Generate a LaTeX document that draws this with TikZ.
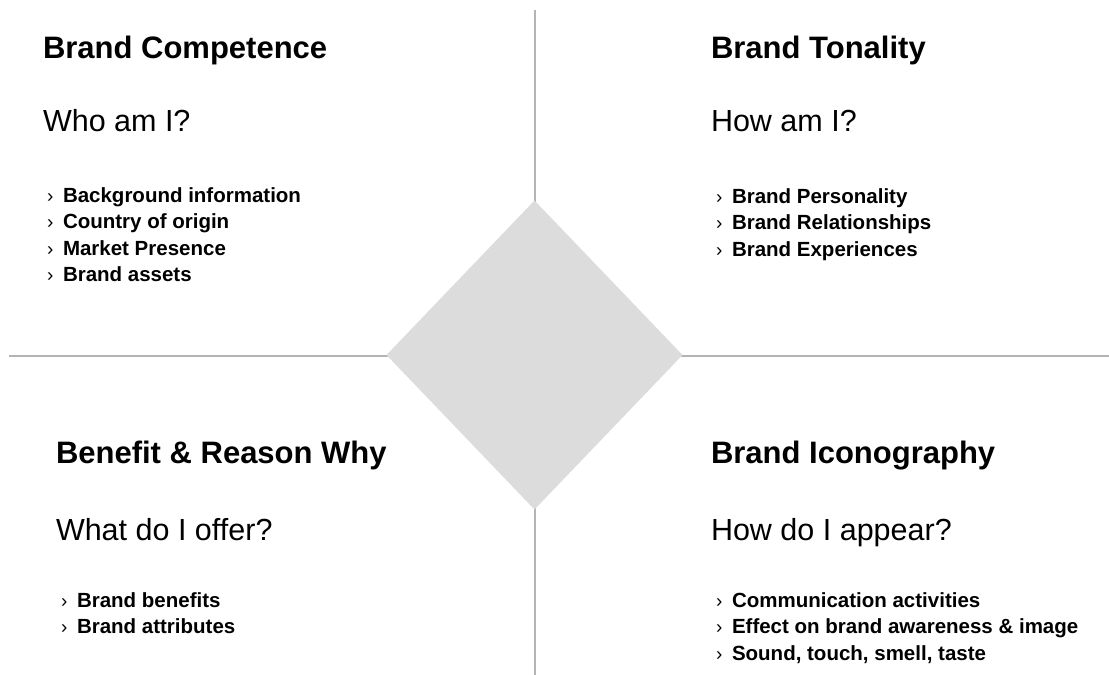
\documentclass[tikz,border=0pt]{standalone}
\usepackage{fontspec}
\setmainfont{Liberation Sans}
\usetikzlibrary{shapes.geometric}

% bullet mark in front of each list entry
\newcommand{\bulmark}{\makebox[16pt][l]{\fontsize{19}{19}\selectfont\mdseries ›}}

\tikzset{
  every node/.style={inner sep=0pt, outer sep=0pt, anchor=base west},
  heading/.style={font=\fontsize{31}{31}\selectfont\bfseries},
  question/.style={font=\fontsize{30.5}{30.5}\selectfont},
  entry/.style={font=\fontsize{20.5}{20.5}\selectfont\bfseries},
  axis/.style={draw=axisgray, line width=1.4pt},
  centre/.style={diamond, fill=diamondgray, draw=none, anchor=center,
                 minimum width=296pt, minimum height=309pt, inner sep=0pt}
}
\definecolor{axisgray}{HTML}{B4B4B4}
\definecolor{diamondgray}{HTML}{DCDCDC}

\begin{document}
\begin{tikzpicture}[x=1pt, y=-1pt]
  \useasboundingbox (0,0) rectangle (1109,675);
  \fill[white] (0,0) rectangle (1109,675);

  % quadrant axes
  \coordinate (hl) at (9,356);
  \coordinate (hr) at (1109,356);
  \coordinate (vt) at (535,10);
  \coordinate (vb) at (535,675);
  \draw[axis] (hl) -- (hr);
  \draw[axis] (vt) -- (vb);

  % central diamond
  \node[centre] (core) at (534.5,355) {};

  % top left quadrant
  \node[heading]  (tlh) at (43,58) {Brand Competence};
  \node[question] (tlq) at (43,131) {Who am I?};
  \node[entry] (tl1) at (47,202) {\bulmark Background information};
  \node[entry] (tl2) at (47,228.5) {\bulmark Country of origin};
  \node[entry] (tl3) at (47,255) {\bulmark Market Presence};
  \node[entry] (tl4) at (47,281) {\bulmark Brand assets};

  % top right quadrant
  \node[heading]  (trh) at (711,58) {Brand Tonality};
  \node[question] (trq) at (711,131) {How am I?};
  \node[entry] (tr1) at (716,203) {\bulmark Brand Personality};
  \node[entry] (tr2) at (716,229.5) {\bulmark Brand Relationships};
  \node[entry] (tr3) at (716,256) {\bulmark Brand Experiences};

  % bottom left quadrant
  \node[heading]  (blh) at (56,463) {Benefit \& Reason Why};
  \node[question] (blq) at (56,540) {What do I offer?};
  \node[entry] (bl1) at (61,607) {\bulmark Brand benefits};
  \node[entry] (bl2) at (61,633.5) {\bulmark Brand attributes};

  % bottom right quadrant
  \node[heading]  (brh) at (711,463) {Brand Iconography};
  \node[question] (brq) at (711,540) {How do I appear?};
  \node[entry] (br1) at (716,607) {\bulmark Communication activities};
  \node[entry] (br2) at (716,633.5) {\bulmark Effect on brand awareness \& image};
  \node[entry] (br3) at (716,660) {\bulmark Sound, touch, smell, taste};
\end{tikzpicture}
\end{document}
